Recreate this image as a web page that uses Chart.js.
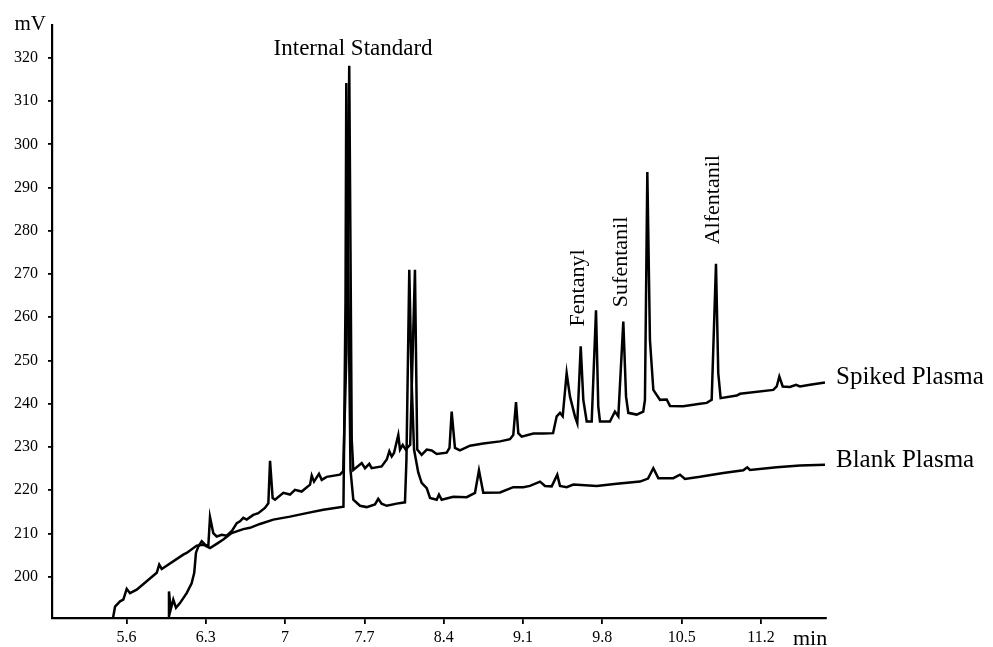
<!DOCTYPE html>
<html>
<head>
<meta charset="utf-8">
<script src="https://cdn.jsdelivr.net/npm/chart.js@4.4.1/dist/chart.umd.min.js"></script>
<style>
  html, body { margin: 0; padding: 0; background: #ffffff; }
  #wrap { width: 993px; height: 647px; position: relative; }
</style>
</head>
<body>
<div id="wrap"><canvas id="c"></canvas></div>
<script>
// ---- Data (retention time in min, detector response in mV) ----
const xTickValues = [5.6, 6.3, 7, 7.7, 8.4, 9.1, 9.8, 10.5, 11.2];
const yTickValues = [200, 210, 220, 230, 240, 250, 260, 270, 280, 290, 300, 310, 320];

const blankTime = [5.478, 5.499, 5.543, 5.572, 5.602, 5.631, 5.690, 5.867, 5.889, 5.911,
  6.101, 6.131, 6.220, 6.278, 6.337, 6.396, 6.454, 6.528, 6.631, 6.690,
  6.778, 6.896, 7.043, 7.190, 7.337, 7.515, 7.533, 7.540, 7.555, 7.577,
  7.602, 7.661, 7.720, 7.793, 7.822, 7.852, 7.897, 7.985, 8.058, 8.071,
  8.096, 8.116, 8.138, 8.175, 8.205, 8.250, 8.279, 8.338, 8.358, 8.382,
  8.484, 8.603, 8.676, 8.711, 8.749, 8.897, 9.014, 9.102, 9.161, 9.250,
  9.294, 9.353, 9.402, 9.426, 9.485, 9.544, 9.750, 9.927, 10.132, 10.203,
  10.250, 10.294, 10.426, 10.485, 10.529, 10.662, 10.867, 11.044, 11.079, 11.103,
  11.339, 11.544, 11.765];
const blankMV = [190.0, 193.1, 194.3, 194.7, 197.2, 196.2, 197.0, 200.9, 202.8, 201.8,
  205.1, 205.5, 207.2, 207.4, 206.6, 207.6, 208.6, 210.1, 211.0, 211.3,
  212.2, 213.2, 213.9, 214.7, 215.5, 216.2, 264.0, 314.2, 275.6, 224.7,
  217.8, 216.4, 216.1, 216.7, 218.0, 216.9, 216.4, 216.9, 217.2, 227.1,
  271.0, 245.6, 229.4, 224.1, 221.7, 220.5, 218.2, 217.8, 219.0, 217.8,
  218.5, 218.4, 219.4, 224.6, 219.4, 219.5, 220.7, 220.7, 221.0, 222.0,
  221.0, 220.9, 223.6, 221.0, 220.7, 221.3, 221.0, 221.5, 222.0, 222.7,
  225.1, 222.8, 222.8, 223.6, 222.6, 223.1, 224.0, 224.6, 225.3, 224.7,
  225.3, 225.7, 225.9];

const spikedTime = [5.969, 5.975, 5.990, 6.013, 6.037, 6.072, 6.131, 6.175, 6.198, 6.213,
  6.234, 6.264, 6.293, 6.322, 6.337, 6.366, 6.396, 6.440, 6.484, 6.528,
  6.573, 6.602, 6.631, 6.661, 6.719, 6.763, 6.822, 6.852, 6.867, 6.890,
  6.911, 6.984, 7.043, 7.087, 7.146, 7.220, 7.235, 7.255, 7.299, 7.323,
  7.367, 7.484, 7.513, 7.542, 7.566, 7.577, 7.588, 7.602, 7.676, 7.705,
  7.743, 7.764, 7.852, 7.897, 7.920, 7.941, 7.961, 7.999, 8.014, 8.038,
  8.064, 8.104, 8.146, 8.166, 8.205, 8.250, 8.294, 8.338, 8.426, 8.451,
  8.470, 8.499, 8.543, 8.632, 8.749, 8.897, 8.985, 9.014, 9.038, 9.058,
  9.088, 9.191, 9.279, 9.365, 9.397, 9.426, 9.450, 9.485, 9.514, 9.558,
  9.579, 9.609, 9.632, 9.662, 9.706, 9.744, 9.764, 9.779, 9.867, 9.911,
  9.941, 9.985, 10.009, 10.029, 10.103, 10.161, 10.176, 10.197, 10.220, 10.250,
  10.309, 10.368, 10.397, 10.514, 10.662, 10.721, 10.765, 10.803, 10.823, 10.844,
  10.986, 11.015, 11.309, 11.339, 11.362, 11.392, 11.456, 11.509, 11.544, 11.633,
  11.765];
const spikedMV = [190.0, 196.6, 192.4, 194.7, 192.8, 193.9, 196.2, 198.5, 200.9, 205.5,
  207.0, 208.2, 207.4, 207.0, 213.8, 210.1, 209.3, 209.7, 209.5, 210.5,
  212.4, 212.8, 213.6, 213.2, 214.3, 214.7, 215.9, 217.0, 226.8, 218.2,
  217.8, 219.4, 219.0, 220.1, 219.7, 221.3, 223.4, 222.0, 223.8, 222.4,
  223.1, 223.6, 224.4, 252.5, 318.2, 275.6, 231.7, 224.7, 226.3, 225.1,
  226.1, 225.1, 225.5, 227.1, 229.0, 227.8, 228.6, 232.8, 229.4, 230.5,
  229.4, 230.5, 271.0, 229.4, 228.2, 229.4, 229.2, 228.4, 228.7, 229.8,
  238.2, 229.8, 229.2, 230.3, 230.8, 231.3, 231.8, 232.8, 240.4, 233.2,
  232.4, 233.1, 233.1, 233.2, 237.1, 237.9, 237.1, 247.1, 241.7, 237.1,
  235.5, 253.3, 240.9, 235.9, 235.9, 261.6, 239.4, 235.9, 235.9, 238.2,
  237.1, 259.0, 241.7, 237.9, 237.5, 238.2, 240.9, 293.6, 254.8, 243.2,
  240.9, 241.0, 239.5, 239.4, 240.0, 240.2, 240.9, 272.4, 247.1, 241.3,
  241.9, 242.3, 243.2, 244.0, 246.3, 244.0, 243.9, 244.4, 244.0, 244.4,
  244.9];

// ---- Annotation texts, anchored in data coordinates ----
const peakLabels = [
  { text: 'Internal Standard', t: 7.60, mv: 322.1, rotate: false },
  { text: 'Fentanyl', t: 9.585, mv: 266.8, rotate: true },
  { text: 'Sufentanil', t: 9.970, mv: 272.8, rotate: true },
  { text: 'Alfentanil', t: 10.779, mv: 287.2, rotate: true }
];
const seriesLabels = [
  { text: 'Spiked Plasma', mv: 246.0 },
  { text: 'Blank Plasma', mv: 227.0 }
];

const FONT = '"Liberation Serif", "Times New Roman", serif';

function toPoints(xs, ys) { return xs.map((x, i) => ({ x: x, y: ys[i] })); }

const textPlugin = {
  id: 'texts',
  afterDraw(chart) {
    const ctx = chart.ctx;
    const xs = chart.scales.x, ys = chart.scales.y;
    const area = chart.chartArea;
    ctx.save();
    ctx.fillStyle = '#000';
    peakLabels.forEach(l => {
      const px = xs.getPixelForValue(l.t);
      const py = ys.getPixelForValue(l.mv);
      ctx.save();
      ctx.translate(px, py);
      if (l.rotate) ctx.rotate(-Math.PI / 2);
      ctx.font = (l.rotate ? '22px ' : '23px ') + FONT;
      ctx.textAlign = 'center';
      ctx.textBaseline = 'middle';
      ctx.fillText(l.text, 0, 0);
      ctx.restore();
    });
    ctx.font = '25px ' + FONT;
    ctx.textAlign = 'left';
    ctx.textBaseline = 'middle';
    seriesLabels.forEach(l => {
      ctx.fillText(l.text, area.right + 10, ys.getPixelForValue(l.mv));
    });
    ctx.font = '21px ' + FONT;
    ctx.textAlign = 'right';
    ctx.textBaseline = 'alphabetic';
    ctx.fillText('mV', area.left - 6, area.top + 5);
    ctx.font = '22px ' + FONT;
    ctx.textAlign = 'left';
    ctx.fillText('min', area.right - 33, area.bottom + 27);
    ctx.restore();
  }
};

new Chart(document.getElementById('c'), {
  type: 'scatter',
  data: {
    datasets: [
      { label: 'Spiked Plasma', data: toPoints(spikedTime, spikedMV) },
      { label: 'Blank Plasma', data: toPoints(blankTime, blankMV) }
    ]
  },
  options: {
    responsive: true,
    maintainAspectRatio: false,
    devicePixelRatio: 1,
    animation: false,
    events: [],
    layout: { padding: { left: 0, top: 25, right: 167, bottom: 0 } },
    elements: {
      point: { radius: 0 },
      line: { borderColor: '#000', borderWidth: 2.5, tension: 0, fill: false }
    },
    datasets: {
      scatter: { showLine: true, borderColor: '#000', borderWidth: 2.5, pointRadius: 0 }
    },
    plugins: {
      legend: { display: false },
      tooltip: { enabled: false },
      title: { display: false }
    },
    scales: {
      x: {
        type: 'linear',
        min: 4.9425,
        max: 11.774,
        afterBuildTicks(scale) { scale.ticks = xTickValues.map(v => ({ value: v })); },
        afterFit(scale) { scale.height = 29; },
        ticks: {
          color: '#000',
          font: { family: FONT, size: 16 },
          padding: 4,
          maxRotation: 0,
          autoSkip: false,
          callback: v => String(v)
        },
        grid: { display: true, drawOnChartArea: false, drawTicks: true, tickLength: 6, color: '#000', lineWidth: 1.8 },
        border: { display: true, color: '#000', width: 2.2 }
      },
      y: {
        type: 'linear',
        min: 190.45,
        max: 327.6,
        afterBuildTicks(scale) { scale.ticks = yTickValues.map(v => ({ value: v })); },
        afterFit(scale) { scale.width = 52; },
        ticks: {
          color: '#000',
          font: { family: FONT, size: 16 },
          padding: 10,
          autoSkip: false,
          callback: v => String(v)
        },
        grid: { display: true, drawOnChartArea: false, drawTicks: true, tickLength: 4, color: '#000', lineWidth: 1.8 },
        border: { display: true, color: '#000', width: 2.2 }
      }
    }
  },
  plugins: [textPlugin]
});
</script>
</body>
</html>
